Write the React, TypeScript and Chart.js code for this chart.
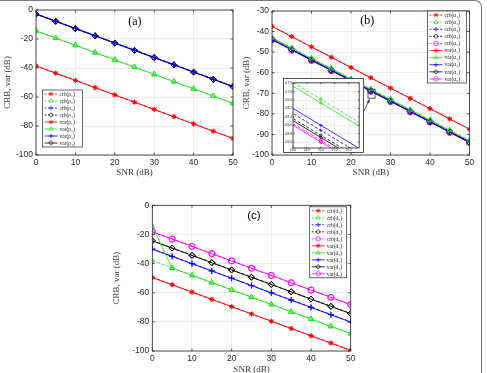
import React, { useEffect, useRef } from "react";
import { Chart, registerables } from "chart.js";
import { drawPoint } from "chart.js/helpers";

Chart.register(...registerables);

// ---- data -------------------------------------------------------------
const SNR = [0, 5, 10, 15, 20, 25, 30, 35, 40, 45, 50];

// panel (a)
const crbRho1 = [-38.5, -43.5, -48.5, -53.5, -58.5, -63.5, -68.5, -73.5, -78.5, -83.5, -88.5];
const crbRho2 = [-14.3, -19.3, -24.3, -29.3, -34.3, -39.3, -44.3, -49.3, -54.3, -59.3, -64.3];
const crbRho3 = [-2.6, -7.6, -12.6, -17.6, -22.6, -27.6, -32.6, -37.6, -42.6, -47.6, -52.6];
const crbRho4 = [-2.8, -7.8, -12.8, -17.8, -22.8, -27.8, -32.8, -37.8, -42.8, -47.8, -52.8];
const varRho1 = [-38.6, -43.6, -48.6, -53.6, -58.6, -63.6, -68.6, -73.6, -78.6, -83.6, -88.6];
const varRho2 = [-14.4, -19.4, -24.4, -29.4, -34.4, -39.4, -44.4, -49.4, -54.4, -59.4, -64.4];
const varRho3 = [-2.7, -7.7, -12.7, -17.7, -22.7, -27.7, -32.7, -37.7, -42.7, -47.7, -52.7];
const varRho4 = [-2.9, -7.9, -12.9, -17.9, -22.9, -27.9, -32.9, -37.9, -42.9, -47.9, -52.9];

// panel (b)
const crbA1 = [-37.4, -42.4, -47.4, -52.4, -57.4, -62.4, -67.4, -72.4, -77.4, -82.4, -87.4];
const crbA2 = [-42.98, -47.98, -52.98, -57.98, -62.98, -67.98, -72.98, -77.98, -82.98, -87.98, -92.98];
const crbA3 = [-43.72, -48.72, -53.72, -58.72, -63.72, -68.72, -73.72, -78.72, -83.72, -88.72, -93.72];
const crbA4 = [-43.84, -48.84, -53.84, -58.84, -63.84, -68.84, -73.84, -78.84, -83.84, -88.84, -93.84];
const crbA5 = [-43.96, -48.96, -53.96, -58.96, -63.96, -68.96, -73.96, -78.96, -83.96, -88.96, -93.96];
const varA1 = [-37.5, -42.5, -47.5, -52.5, -57.5, -62.5, -67.5, -72.5, -77.5, -82.5, -87.5];
const varA2 = [-43.07, -48.07, -53.07, -58.07, -63.07, -68.07, -73.07, -78.07, -83.07, -88.07, -93.07];
const varA3 = [-43.6, -48.6, -53.6, -58.6, -63.6, -68.6, -73.6, -78.6, -83.6, -88.6, -93.6];
const varA4 = [-43.89, -48.89, -53.89, -58.89, -63.89, -68.89, -73.89, -78.89, -83.89, -88.89, -93.89];
const varA5 = [-44.0, -49.0, -54.0, -59.0, -64.0, -69.0, -74.0, -79.0, -84.0, -89.0, -94.0];

// panel (c)
const crbD1 = [-49.5, -54.5, -59.5, -64.5, -69.5, -74.5, -79.5, -84.5, -89.5, -94.5, -99.5];
const crbD2 = [-38.0, -43.0, -48.0, -53.0, -58.0, -63.0, -68.0, -73.0, -78.0, -83.0, -88.0];
const crbD3 = [-30.0, -35.0, -40.0, -45.0, -50.0, -55.0, -60.0, -65.0, -70.0, -75.0, -80.0];
const crbD4 = [-24.3, -29.3, -34.3, -39.3, -44.3, -49.3, -54.3, -59.3, -64.3, -69.3, -74.3];
const crbD5 = [-18.1, -23.1, -28.1, -33.1, -38.1, -43.1, -48.1, -53.1, -58.1, -63.1, -68.1];
const varD1 = [-49.6, -54.6, -59.6, -64.6, -69.6, -74.6, -79.6, -84.6, -89.6, -94.6, -99.6];
const varD2 = [-14.5, -43.1, -48.1, -53.1, -58.1, -63.1, -68.1, -73.1, -78.1, -83.1, -88.1];
const varD3 = [-30.1, -35.1, -40.1, -45.1, -50.1, -55.1, -60.1, -65.1, -70.1, -75.1, -80.1];
const varD4 = [-24.4, -29.4, -34.4, -39.4, -44.4, -49.4, -54.4, -59.4, -64.4, -69.4, -74.4];
const varD5 = [-18.2, -23.2, -28.2, -33.2, -38.2, -43.2, -48.2, -53.2, -58.2, -63.2, -68.2];

// ---- styling ----------------------------------------------------------
const RED = "#ff0000";
const GREEN = "#22e022";
const BLUE = "#0000ff";
const BLACK = "#000000";
const MAGENTA = "#ff00ff";
const AXIS = "#262626";
const GRID = "#e3e3e3";
const SANS = "'Liberation Sans', Arial, sans-serif";
const SERIF = "'Liberation Serif', 'Times New Roman', serif";

type Series = { label: string; data: number[]; color: string; dashed: boolean; marker: string };

const seriesA: Series[] = [
  { label: "crb(ρ₁)", data: crbRho1, color: RED, dashed: true, marker: "star" },
  { label: "crb(ρ₂)", data: crbRho2, color: GREEN, dashed: true, marker: "triangle" },
  { label: "crb(ρ₃)", data: crbRho3, color: BLUE, dashed: true, marker: "cross" },
  { label: "crb(ρ₄)", data: crbRho4, color: BLACK, dashed: true, marker: "rectRot" },
  { label: "var(ρ₁)", data: varRho1, color: RED, dashed: false, marker: "star" },
  { label: "var(ρ₂)", data: varRho2, color: GREEN, dashed: false, marker: "triangle" },
  { label: "var(ρ₃)", data: varRho3, color: BLUE, dashed: false, marker: "cross" },
  { label: "var(ρ₄)", data: varRho4, color: BLACK, dashed: false, marker: "rectRot" },
];

const seriesB: Series[] = [
  { label: "crb(α₁)", data: crbA1, color: RED, dashed: true, marker: "star" },
  { label: "crb(α₂)", data: crbA2, color: GREEN, dashed: true, marker: "triangle" },
  { label: "crb(α₃)", data: crbA3, color: BLUE, dashed: true, marker: "cross" },
  { label: "crb(α₄)", data: crbA4, color: BLACK, dashed: true, marker: "rectRot" },
  { label: "crb(α₅)", data: crbA5, color: MAGENTA, dashed: true, marker: "circle" },
  { label: "var(α₁)", data: varA1, color: RED, dashed: false, marker: "star" },
  { label: "var(α₂)", data: varA2, color: GREEN, dashed: false, marker: "triangle" },
  { label: "var(α₃)", data: varA3, color: BLUE, dashed: false, marker: "cross" },
  { label: "var(α₄)", data: varA4, color: BLACK, dashed: false, marker: "rectRot" },
  { label: "var(α₅)", data: varA5, color: MAGENTA, dashed: false, marker: "circle" },
];

const seriesC: Series[] = [
  { label: "crb(d₁)", data: crbD1, color: RED, dashed: true, marker: "star" },
  { label: "crb(d₂)", data: crbD2, color: GREEN, dashed: true, marker: "triangle" },
  { label: "crb(d₃)", data: crbD3, color: BLUE, dashed: true, marker: "cross" },
  { label: "crb(d₄)", data: crbD4, color: BLACK, dashed: true, marker: "rectRot" },
  { label: "crb(d₅)", data: crbD5, color: MAGENTA, dashed: true, marker: "circle" },
  { label: "var(d₁)", data: varD1, color: RED, dashed: false, marker: "star" },
  { label: "var(d₂)", data: varD2, color: GREEN, dashed: false, marker: "triangle" },
  { label: "var(d₃)", data: varD3, color: BLUE, dashed: false, marker: "cross" },
  { label: "var(d₄)", data: varD4, color: BLACK, dashed: false, marker: "rectRot" },
  { label: "var(d₅)", data: varD5, color: MAGENTA, dashed: false, marker: "circle" },
];

const DASH = [3, 2];

function toDataset(s: Series, radius: number, width: number) {
  return {
    label: s.label,
    data: SNR.map((x, i) => ({ x, y: s.data[i] })),
    borderColor: s.color,
    backgroundColor: s.color,
    borderWidth: width,
    borderDash: s.dashed ? DASH : [],
    pointStyle: s.marker,
    pointRadius: s.marker === "star" ? radius * 0.8 : radius,
    pointBorderColor: s.color,
    pointBackgroundColor: s.marker === "star" ? s.color : "rgba(0,0,0,0)",
    pointBorderWidth: width,
    tension: 0,
    fill: false,
  };
}

// ---- plugins ----------------------------------------------------------
// axes box with inward tick marks on all four sides
const axesBox = {
  id: "axesBox",
  afterDatasetsDraw(chart: any, _args: any, o: any) {
    const { ctx, chartArea: a, scales } = chart;
    const tl = o.tick ?? 2.5;
    ctx.save();
    ctx.strokeStyle = AXIS;
    ctx.lineWidth = o.width ?? 0.8;
    ctx.setLineDash([]);
    ctx.strokeRect(a.left, a.top, a.right - a.left, a.bottom - a.top);
    ctx.beginPath();
    scales.x.ticks.forEach((t: any) => {
      const px = scales.x.getPixelForValue(t.value);
      ctx.moveTo(px, a.bottom);
      ctx.lineTo(px, a.bottom - tl);
      ctx.moveTo(px, a.top);
      ctx.lineTo(px, a.top + tl);
    });
    scales.y.ticks.forEach((t: any) => {
      const py = scales.y.getPixelForValue(t.value);
      ctx.moveTo(a.left, py);
      ctx.lineTo(a.left + tl, py);
      ctx.moveTo(a.right, py);
      ctx.lineTo(a.right - tl, py);
    });
    ctx.stroke();
    ctx.restore();
  },
};

// panel tag such as "(a)", placed in data coordinates
const panelTag = {
  id: "panelTag",
  afterDatasetsDraw(chart: any, _args: any, o: any) {
    if (!o.text) return;
    const { ctx, scales } = chart;
    ctx.save();
    ctx.font = o.font;
    ctx.fillStyle = "#000";
    ctx.textAlign = "center";
    ctx.textBaseline = "middle";
    ctx.fillText(o.text, scales.x.getPixelForValue(o.x), scales.y.getPixelForValue(o.y));
    ctx.restore();
  },
};

// boxed legend drawn inside the plot area
const boxLegend = {
  id: "boxLegend",
  afterDraw(chart: any, _args: any, o: any) {
    if (!o.show) return;
    const { ctx, chartArea: a } = chart;
    const sets = chart.data.datasets;
    const h = o.pad * 2 + o.row * sets.length;
    const x0 = o.anchor === "right" ? a.right - o.dx - o.w : a.left + o.dx;
    const y0 = a.top + o.dy;
    ctx.save();
    ctx.fillStyle = "#fff";
    ctx.fillRect(x0, y0, o.w, h);
    ctx.strokeStyle = AXIS;
    ctx.lineWidth = 0.7;
    ctx.setLineDash([]);
    ctx.strokeRect(x0, y0, o.w, h);
    ctx.font = o.font;
    ctx.textBaseline = "middle";
    ctx.textAlign = "left";
    sets.forEach((d: any, i: number) => {
      const cy = y0 + o.pad + (i + 0.5) * o.row;
      const lx = x0 + 2;
      ctx.strokeStyle = d.borderColor;
      ctx.lineWidth = 0.8;
      ctx.setLineDash(d.borderDash && d.borderDash.length ? [2, 1.5] : []);
      ctx.beginPath();
      ctx.moveTo(lx, cy);
      ctx.lineTo(lx + o.sample, cy);
      ctx.stroke();
      ctx.setLineDash([]);
      ctx.fillStyle = d.pointBackgroundColor;
      ctx.strokeStyle = d.pointBorderColor;
      ctx.lineWidth = 0.7;
      drawPoint(ctx, { pointStyle: d.pointStyle, rotation: 0, radius: o.marker, borderWidth: 0.7 } as any, lx + o.sample / 2, cy);
      ctx.fillStyle = "#222";
      ctx.fillText(d.label, lx + o.sample + 2, cy + 0.3);
    });
    ctx.restore();
  },
};

// zoom rectangle on the main plot plus an arrow pointing to the inset
const zoomMark = {
  id: "zoomMark",
  afterDatasetsDraw(chart: any, _args: any, o: any) {
    if (!o.rect) return;
    const { ctx, scales } = chart;
    const [x1, x2, y1, y2] = o.rect;
    const px1 = scales.x.getPixelForValue(x1);
    const px2 = scales.x.getPixelForValue(x2);
    const py1 = scales.y.getPixelForValue(y1);
    const py2 = scales.y.getPixelForValue(y2);
    ctx.save();
    ctx.strokeStyle = "#333";
    ctx.lineWidth = 0.8;
    ctx.strokeRect(px1, py1, px2 - px1, py2 - py1);
    const [tx, ty] = o.tail;
    const hx = px1 + 1.5;
    const hy = py2 + 1;
    ctx.beginPath();
    ctx.moveTo(tx, ty);
    ctx.lineTo(hx, hy);
    ctx.stroke();
    const ang = Math.atan2(hy - ty, hx - tx);
    ctx.fillStyle = "#333";
    ctx.beginPath();
    ctx.moveTo(hx, hy);
    ctx.lineTo(hx - 4 * Math.cos(ang - 0.4), hy - 4 * Math.sin(ang - 0.4));
    ctx.lineTo(hx - 4 * Math.cos(ang + 0.4), hy - 4 * Math.sin(ang + 0.4));
    ctx.closePath();
    ctx.fill();
    ctx.restore();
  },
};

// white panel background with border (for the inset)
const insetFrame = {
  id: "insetFrame",
  beforeDraw(chart: any, _args: any, o: any) {
    if (!o.on) return;
    const { ctx, width, height } = chart;
    ctx.save();
    ctx.fillStyle = "#fff";
    ctx.fillRect(0, 0, width, height);
    ctx.restore();
  },
  afterDraw(chart: any, _args: any, o: any) {
    if (!o.on) return;
    const { ctx, width, height } = chart;
    ctx.save();
    ctx.strokeStyle = AXIS;
    ctx.lineWidth = 0.8;
    ctx.strokeRect(0.5, 0.5, width - 1, height - 1);
    ctx.restore();
  },
};

// ---- chart configuration ---------------------------------------------
type PanelOpts = {
  series: Series[];
  xMin: number;
  xMax: number;
  xStep: number;
  yMin: number;
  yMax: number;
  yStep: number;
  yWidth: number;
  xHeight: number;
  padding: { left: number; top: number; right: number; bottom: number };
  tickFont: number;
  tickPadX: number;
  tickPadY: number;
  titles: boolean;
  xTitlePad?: number;
  yTitlePad?: number;
  markerRadius: number;
  lineWidth?: number;
  tag?: any;
  legend?: any;
  zoom?: any;
  inset?: boolean;
  tickLen?: number;
};

function buildConfig(p: PanelOpts): any {
  const tickFont = { family: SANS, size: p.tickFont };
  const titleFont = { family: SERIF, size: 9 };
  return {
    type: "line",
    data: { datasets: p.series.map((s) => toDataset(s, p.markerRadius, p.lineWidth ?? 0.9)) },
    options: {
      responsive: false,
      animation: false,
      events: [],
      layout: { padding: p.padding },
      elements: { line: { borderCapStyle: "butt" } },
      scales: {
        x: {
          type: "linear",
          min: p.xMin,
          max: p.xMax,
          border: { display: false },
          grid: { color: GRID, lineWidth: 0.6, drawTicks: false },
          ticks: {
            stepSize: p.xStep,
            font: tickFont,
            color: AXIS,
            padding: p.tickPadX,
            maxRotation: 0,
            autoSkip: false,
            includeBounds: false,
          },
          title: {
            display: p.titles,
            text: "SNR (dB)",
            font: titleFont,
            color: "#333",
            padding: p.xTitlePad ?? 0,
          },
          afterFit: (s: any) => {
            s.height = p.xHeight;
          },
        },
        y: {
          type: "linear",
          min: p.yMin,
          max: p.yMax,
          border: { display: false },
          grid: { color: GRID, lineWidth: 0.6, drawTicks: false },
          ticks: {
            stepSize: p.yStep,
            font: tickFont,
            color: AXIS,
            padding: p.tickPadY,
            autoSkip: false,
            includeBounds: false,
          },
          title: {
            display: p.titles,
            text: "CRB, var (dB)",
            font: titleFont,
            color: "#333",
            padding: p.yTitlePad ?? 0,
          },
          afterFit: (s: any) => {
            s.width = p.yWidth;
          },
        },
      },
      plugins: {
        legend: { display: false },
        tooltip: { enabled: false },
        axesBox: { tick: p.tickLen ?? 2.5 },
        panelTag: p.tag ?? {},
        boxLegend: p.legend ?? { show: false },
        zoomMark: p.zoom ?? {},
        insetFrame: { on: !!p.inset },
      },
    },
    plugins: [insetFrame, axesBox, panelTag, zoomMark, boxLegend],
  };
}

const configA = () =>
  buildConfig({
    series: seriesA,
    xMin: 0, xMax: 50, xStep: 10,
    yMin: -100, yMax: 0, yStep: 20,
    yWidth: 36, xHeight: 27,
    padding: { left: 0, top: 10, right: 12, bottom: 0 },
    tickFont: 8.5, tickPadX: 3, tickPadY: 3,
    titles: true, xTitlePad: 3.6, yTitlePad: 2.6,
    markerRadius: 3,
    tag: { text: "(a)", x: 25.1, y: -8.3, font: `12px ${SERIF}` },
    legend: { show: true, anchor: "left", dx: 6.5, dy: 80, w: 40, pad: 0.5, row: 7, sample: 13, marker: 2.3, font: `5.5px ${SERIF}` },
  });

const configB = () =>
  buildConfig({
    series: seriesB,
    xMin: 0, xMax: 50, xStep: 10,
    yMin: -100, yMax: -30, yStep: 10,
    yWidth: 32, xHeight: 27,
    padding: { left: 0, top: 11, right: 15.5, bottom: 0 },
    tickFont: 8.5, tickPadX: 3, tickPadY: 3,
    titles: true, xTitlePad: 3.6, yTitlePad: 1.5,
    markerRadius: 3,
    tag: { text: "(b)", x: 24.1, y: -34.9, font: `12px ${SERIF}` },
    legend: { show: true, anchor: "right", dx: 3, dy: 0, w: 39, pad: 0.5, row: 7.1, sample: 13, marker: 2.3, font: `5.5px ${SERIF}` },
    zoom: { rect: [24.3, 26.1, -68, -72.4], tail: [124, 111] },
  });

// magnified view around SNR = 25 dB
const configInset = () =>
  buildConfig({
    series: seriesB,
    xMin: 24.6, xMax: 25.55, xStep: 0.2,
    yMin: -69.14, yMax: -67.59, yStep: 0.2,
    yWidth: 10, xHeight: 5,
    padding: { left: 0, top: 0.5, right: 0, bottom: 0 },
    tickFont: 3.3, tickPadX: 0.6, tickPadY: 1,
    titles: false,
    markerRadius: 1.6,
    lineWidth: 0.8,
    inset: true,
    tickLen: 1.2,
  });

const configC = () =>
  buildConfig({
    series: seriesC,
    xMin: 0, xMax: 50, xStep: 10,
    yMin: -100, yMax: 0, yStep: 20,
    yWidth: 42.3, xHeight: 24,
    padding: { left: 0, top: 20.3, right: 19.3, bottom: 0 },
    tickFont: 8.5, tickPadX: 3, tickPadY: 3,
    titles: true, xTitlePad: 0, yTitlePad: 1.6,
    markerRadius: 3,
    tag: { text: "(c)", x: 25.6, y: -7.4, font: `11.5px ${SANS}` },
    legend: { show: true, anchor: "right", dx: 4, dy: 1.5, w: 37, pad: 0.5, row: 7, sample: 13, marker: 2.3, font: `5.5px ${SERIF}` },
  });

// ---- components -------------------------------------------------------
type Box = { left: number; top: number; width: number; height: number };

function Plot({ box, make }: { box: Box; make: () => any }) {
  const ref = useRef<HTMLCanvasElement>(null);
  useEffect(() => {
    const chart = new Chart(ref.current as HTMLCanvasElement, make());
    return () => chart.destroy();
  }, [make]);
  return (
    <div style={{ position: "absolute", left: box.left, top: box.top, width: box.width, height: box.height }}>
      <canvas ref={ref} width={box.width} height={box.height} style={{ display: "block", width: box.width, height: box.height }} />
    </div>
  );
}

export default function App() {
  return (
    <div
      style={{
        position: "absolute",
        left: 0,
        top: 0,
        width: 487,
        height: 373,
        overflow: "hidden",
        background: "#fff",
      }}
    >
      <Plot box={{ left: 0, top: 0, width: 245, height: 182 }} make={configA} />
      <Plot box={{ left: 240, top: 0, width: 245, height: 182 }} make={configB} />
      <Plot box={{ left: 283, top: 78, width: 81, height: 75 }} make={configInset} />
      <Plot box={{ left: 110, top: 185, width: 260, height: 190 }} make={configC} />
      <div
        style={{
          position: "absolute",
          left: -4,
          top: 0,
          width: 486,
          height: 400,
          boxSizing: "border-box",
          borderTop: "1.5px solid #7a7a7a",
          borderRight: "1.5px solid #7a7a7a",
          borderTopRightRadius: 7,
          pointerEvents: "none",
        }}
      />
    </div>
  );
}
